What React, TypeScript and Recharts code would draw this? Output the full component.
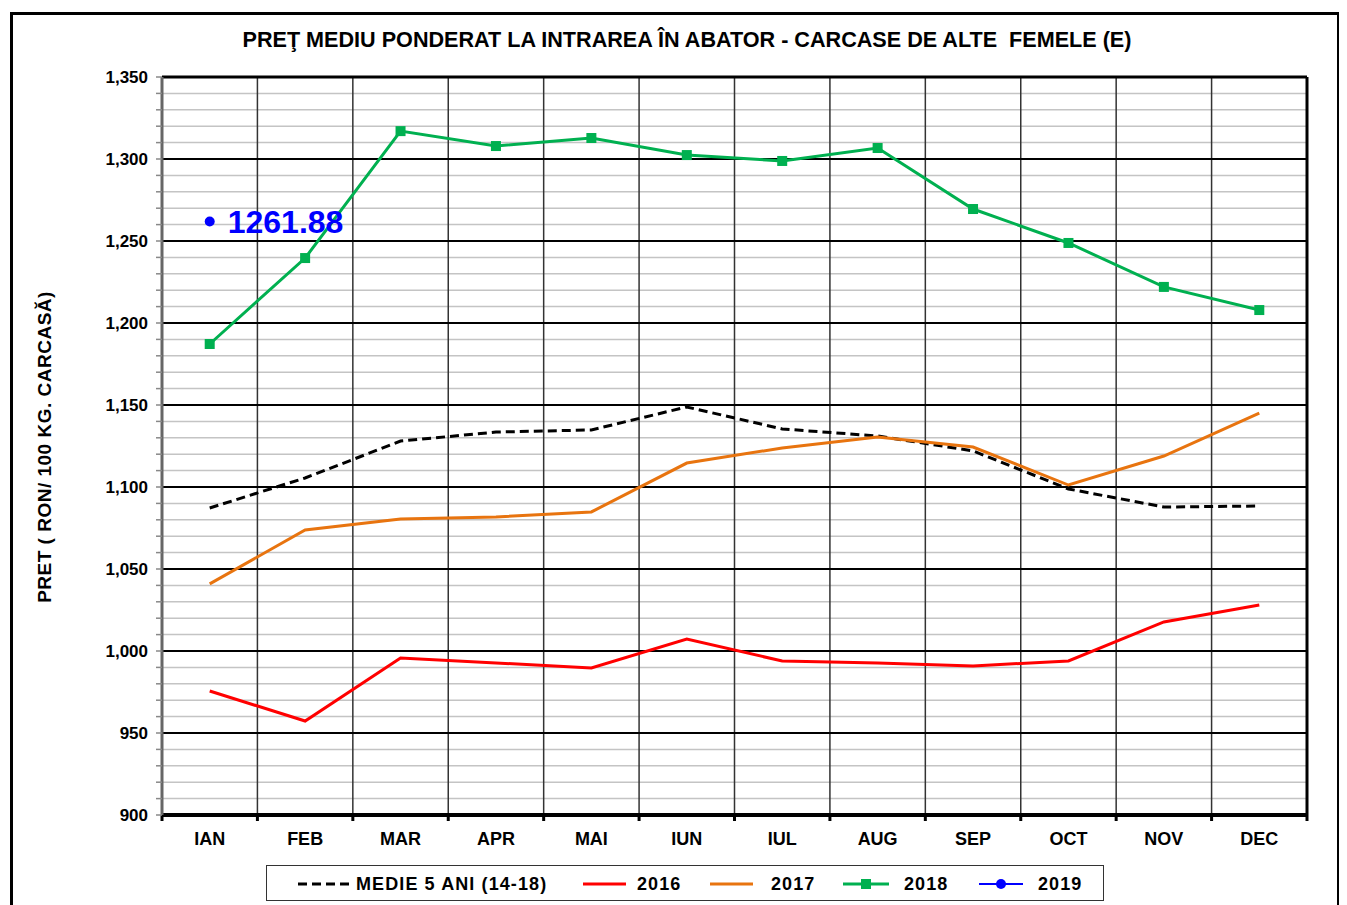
import {
  LineChart,
  Line,
  XAxis,
  YAxis,
  CartesianGrid,
  ReferenceLine,
  LabelList,
} from "recharts";

const months = ["IAN", "FEB", "MAR", "APR", "MAI", "IUN", "IUL", "AUG", "SEP", "OCT", "NOV", "DEC"];

// medie 5 ani (2014-2018)
const medie = [1087.2, 1105.5, 1128, 1133.5, 1134.8, 1148.8, 1135.4, 1131.1, 1122, 1098.8, 1087.8, 1088.4];
const y2016 = [975.6, 957.3, 995.7, 992.7, 989.6, 1007.3, 993.9, 992.7, 990.9, 993.9, 1017.7, 1028];
const y2017 = [1040.9, 1073.8, 1080.5, 1081.7, 1084.8, 1114.6, 1123.8, 1130.5, 1124.4, 1101.2, 1118.9, 1145.1];
const y2018 = [1187.2, 1239.6, 1317, 1307.9, 1312.8, 1302.4, 1298.8, 1306.7, 1269.5, 1248.8, 1222, 1207.9];
const y2019: (number | null)[] = [1261.88, null, null, null, null, null, null, null, null, null, null, null];

const yTicks = [900, 910, 920, 930, 940, 950, 960, 970, 980, 990, 1000, 1010, 1020, 1030, 1040, 1050, 1060,
  1070, 1080, 1090, 1100, 1110, 1120, 1130, 1140, 1150, 1160, 1170, 1180, 1190, 1200, 1210, 1220, 1230, 1240,
  1250, 1260, 1270, 1280, 1290, 1300, 1310, 1320, 1330, 1340, 1350];
const majorTicks = [950, 1000, 1050, 1100, 1150, 1200, 1250, 1300, 1350];
// category boundaries (between months)
const bounds = [0, 1, 2, 3, 4, 5, 6, 7, 8, 9, 10, 11, 12];

const data = months.map((m, i) => ({
  month: m,
  pos: i + 0.5,
  medie: medie[i],
  y2016: y2016[i],
  y2017: y2017[i],
  y2018: y2018[i],
  y2019: y2019[i],
}));

const FONT = "'Liberation Sans', Arial, sans-serif";

const SquareDot = (props: any) => {
  const { cx, cy } = props;
  if (cx == null || cy == null) return null;
  return <rect x={cx - 5} y={cy - 5} width={10} height={10} fill="#00B050" />;
};

const legendItems = [
  { key: "medie", label: "MEDIE 5 ANI (14-18)", iconLeft: 31, iconW: 52, textLeft: 89 },
  { key: "y2016", label: "2016", iconLeft: 316, iconW: 43, textLeft: 370 },
  { key: "y2017", label: "2017", iconLeft: 443, iconW: 43, textLeft: 504 },
  { key: "y2018", label: "2018", iconLeft: 576, iconW: 46, textLeft: 637 },
  { key: "y2019", label: "2019", iconLeft: 712, iconW: 44, textLeft: 771 },
];

function LegendIcon({ k, w }: { k: string; w: number }) {
  if (k === "medie")
    return (
      <svg width={w} height={12}>
        <line x1={0} y1={6} x2={w} y2={6} stroke="#000" strokeWidth={3} strokeDasharray="9 5" />
      </svg>
    );
  if (k === "y2016")
    return (
      <svg width={w} height={12}>
        <line x1={0} y1={6} x2={w} y2={6} stroke="#FF0000" strokeWidth={3} />
      </svg>
    );
  if (k === "y2017")
    return (
      <svg width={w} height={12}>
        <line x1={0} y1={6} x2={w} y2={6} stroke="#E8740F" strokeWidth={3} />
      </svg>
    );
  if (k === "y2018")
    return (
      <svg width={w} height={12}>
        <line x1={0} y1={6} x2={w} y2={6} stroke="#00B050" strokeWidth={3} />
        <rect x={w / 2 - 5} y={1} width={10} height={10} fill="#00B050" />
      </svg>
    );
  return (
    <svg width={w} height={12}>
      <line x1={0} y1={6} x2={w} y2={6} stroke="#0000FF" strokeWidth={2} />
      <circle cx={w / 2} cy={6} r={5} fill="#0000FF" />
    </svg>
  );
}

function LegendBox() {
  return (
    <div
      style={{
        position: "absolute",
        left: 258,
        top: 857,
        width: 838,
        height: 36,
        border: "1.5px solid #333",
        fontFamily: FONT,
        fontWeight: "bold",
        fontSize: 18,
        color: "#000",
        boxSizing: "border-box",
      }}
    >
      {legendItems.map((it) => (
        <div key={it.key}>
          <div style={{ position: "absolute", left: it.iconLeft, top: 12, height: 12, lineHeight: 0 }}>
            <LegendIcon k={it.key} w={it.iconW} />
          </div>
          <div style={{ position: "absolute", left: it.textLeft, top: 8, letterSpacing: 1.1, whiteSpace: "nowrap" }}>
            {it.label}
          </div>
        </div>
      ))}
    </div>
  );
}

export default function App() {
  return (
    <div style={{ position: "relative", width: 1331, height: 897, fontFamily: FONT }}>
      <div
        style={{
          position: "absolute",
          left: 2,
          top: 4,
          width: 1330,
          height: 910,
          border: "3px solid #000",
          boxSizing: "border-box",
        }}
      />
      <div
        style={{
          position: "absolute",
          left: 0,
          width: 1358,
          top: 19,
          textAlign: "center",
          fontWeight: "bold",
          fontSize: 21.6,
          color: "#000",
          whiteSpace: "nowrap",
        }}
      >
        PREŢ MEDIU PONDERAT LA INTRAREA ÎN ABATOR - CARCASE DE ALTE&nbsp; FEMELE (E)
      </div>
      <div
        style={{
          position: "absolute",
          left: 37,
          top: 439,
          transform: "translate(-50%, -50%) rotate(-90deg)",
          whiteSpace: "nowrap",
          fontWeight: "bold",
          fontSize: 19,
          letterSpacing: 0.5,
          color: "#000",
        }}
      >
        PRET ( RON/ 100 KG. CARCASĂ)
      </div>
      <div style={{ position: "absolute", left: 0, top: 0 }}>
        <LineChart
          width={1320}
          height={870}
          data={data}
          margin={{ top: 69, right: 21, left: 94, bottom: 17 }}
        >
          <XAxis
            xAxisId="g"
            dataKey="pos"
            type="number"
            domain={[0, 12]}
            ticks={bounds}
            interval={0}
            tickFormatter={() => ""}
            height={6}
            axisLine={{ stroke: "#000", strokeWidth: 4 }}
            tickLine={{ stroke: "#000", strokeWidth: 3 }}
            tickSize={6}
            allowDataOverflow
          />
          <XAxis
            xAxisId="m"
            dataKey="month"
            scale="band"
            axisLine={false}
            tickLine={false}
            tickSize={6}
            tickMargin={5}
            height={40}
            interval={0}
            tick={{ fill: "#000", fontSize: 18, fontWeight: "bold", fontFamily: FONT }}
          />
          <YAxis
            domain={[900, 1350]}
            ticks={yTicks}
            interval={0}
            width={60}
            allowDataOverflow
            tickFormatter={(v: number) => (v % 50 === 0 ? v.toLocaleString("en-US") : "")}
            axisLine={{ stroke: "#666", strokeWidth: 3 }}
            tickLine={{ stroke: "#888", strokeWidth: 1.5 }}
            tickSize={6}
            tickMargin={8}
            tick={{ fill: "#000", fontSize: 17, fontWeight: "bold", fontFamily: FONT }}
          />
          <CartesianGrid xAxisId="g" vertical={false} stroke="#C4C4C4" strokeWidth={1.5} />
          <CartesianGrid xAxisId="g" horizontal={false} stroke="#333" strokeWidth={1.5} />
          {majorTicks.map((t) => (
            <ReferenceLine key={t} xAxisId="g" y={t} stroke="#000" strokeWidth={t === 1350 ? 3 : 2} />
          ))}
          <ReferenceLine xAxisId="g" x={12} stroke="#000" strokeWidth={3} />
          <Line
            xAxisId="m"
            dataKey="medie"
            stroke="#000"
            strokeWidth={3}
            strokeDasharray="9 5"
            dot={false}
            isAnimationActive={false}
          />
          <Line xAxisId="m" dataKey="y2016" stroke="#FF0000" strokeWidth={3} dot={false} isAnimationActive={false} />
          <Line xAxisId="m" dataKey="y2017" stroke="#E8740F" strokeWidth={3} dot={false} isAnimationActive={false} />
          <Line
            xAxisId="m"
            dataKey="y2018"
            stroke="#00B050"
            strokeWidth={3}
            dot={<SquareDot />}
            isAnimationActive={false}
          />
          <Line
            xAxisId="m"
            dataKey="y2019"
            stroke="#0000FF"
            strokeWidth={2}
            dot={{ r: 5, fill: "#0000FF", stroke: "#0000FF", strokeWidth: 0 }}
            isAnimationActive={false}
          >
            <LabelList
              dataKey="y2019"
              position="right"
              offset={18}
              fill="#0000FF"
              fontSize={32}
              fontWeight="bold"
              fontFamily={FONT}
            />
          </Line>
        </LineChart>
      </div>
      <LegendBox />
    </div>
  );
}
